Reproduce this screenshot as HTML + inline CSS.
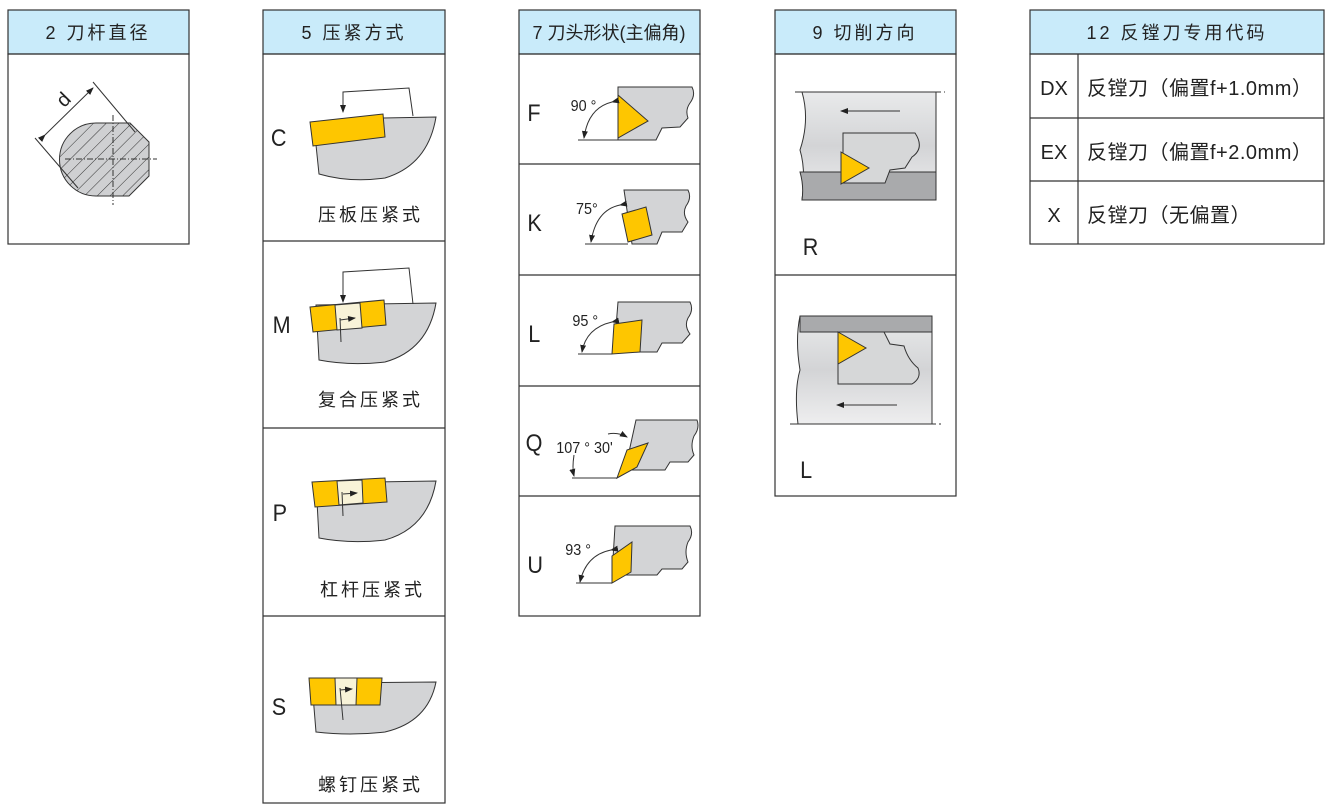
<!DOCTYPE html>
<html><head><meta charset="utf-8"><style>
html,body{margin:0;padding:0;background:#fff;}
svg{display:block;}
text{font-family:"Liberation Sans","Noto Sans CJK SC",sans-serif;fill:#222;}
</style></head><body>
<svg width="1333" height="811" viewBox="0 0 1333 811" xmlns="http://www.w3.org/2000/svg">
<defs>
<pattern id="hatch" width="9" height="9" patternUnits="userSpaceOnUse" patternTransform="rotate(45)">
<rect width="9" height="9" fill="#cfd0d2"/><line x1="0" y1="0" x2="0" y2="9" stroke="#333" stroke-width="1"/>
</pattern>
<linearGradient id="bore" x1="0" y1="0" x2="0" y2="1"><stop offset="0" stop-color="#e9eaeb"/><stop offset="0.5" stop-color="#d3d4d6"/><stop offset="1" stop-color="#eeeeef"/></linearGradient>
<marker id="ar" markerWidth="8" markerHeight="6" refX="7" refY="3" orient="auto"><path d="M0,0 L8,3 L0,6 Z" fill="#222"/></marker>
</defs>
<g stroke="#333" stroke-width="1.2" fill="none">
<rect x="8" y="10" width="181" height="44" fill="#c9ebfa"/><rect x="8" y="54" width="181" height="190"/>
<rect x="263" y="10" width="182" height="44" fill="#c9ebfa"/><rect x="263" y="54" width="182" height="749"/>
<line x1="263" y1="241" x2="445" y2="241"/><line x1="263" y1="428" x2="445" y2="428"/><line x1="263" y1="616" x2="445" y2="616"/>
<rect x="519" y="10" width="181" height="44" fill="#c9ebfa"/><rect x="519" y="54" width="181" height="562"/>
<line x1="519" y1="164" x2="700" y2="164"/><line x1="519" y1="275" x2="700" y2="275"/><line x1="519" y1="386" x2="700" y2="386"/><line x1="519" y1="496" x2="700" y2="496"/>
<rect x="775" y="10" width="181" height="44" fill="#c9ebfa"/><rect x="775" y="54" width="181" height="442"/>
<line x1="775" y1="275" x2="956" y2="275"/>
<rect x="1030" y="10" width="294" height="44" fill="#c9ebfa"/><rect x="1030" y="54" width="294" height="190"/>
<line x1="1030" y1="118" x2="1324" y2="118"/><line x1="1030" y1="181" x2="1324" y2="181"/><line x1="1078" y1="54" x2="1078" y2="244"/>
</g>
<g font-size="18" text-anchor="middle" letter-spacing="3">
<text x="98" y="39">2 刀杆直径</text>
<text x="354" y="39">5 压紧方式</text>
<text x="609" y="39" letter-spacing="0">7 刀头形状(主偏角)</text>
<text x="865" y="39">9 切削方向</text>
<text x="1177" y="39">12 反镗刀专用代码</text>
</g>
<g stroke="#333" stroke-width="1">
<path d="M96,123 L130,123 L149,142 L149,176 L137,188 L129,196 L96,196 A36,36 0 0 1 96,123 Z" fill="url(#hatch)"/>
<line x1="113" y1="115" x2="113" y2="205" stroke-dasharray="6,2,1,2"/>
<line x1="65" y1="159" x2="157" y2="159" stroke-dasharray="6,2,1,2"/>
<line x1="35" y1="138" x2="78" y2="188"/><line x1="93" y1="82" x2="135" y2="132"/>
<line x1="45" y1="135" x2="93" y2="88" marker-end="url(#ar)" marker-start="url(#ar)"/>
</g>
<text x="60" y="110" font-size="20" transform="rotate(-45 60 104)">d</text>
<g font-size="24" transform="scale(0.9,1)"><text x="301" y="146">C</text><text x="303" y="333">M</text><text x="303" y="521">P</text><text x="302" y="715">S</text></g>
<g font-size="18" letter-spacing="3"><text x="318" y="221">压板压紧式</text><text x="318" y="406">复合压紧式</text><text x="320" y="596">杠杆压紧式</text><text x="318" y="791">螺钉压紧式</text></g>
<g stroke="#333" stroke-width="1">
<path d="M383,118 L436,117 Q428,165 385,178 Q350,183 319,174 L316,145 Z" fill="#d3d4d6"/>
<path d="M310,122 L383,114 L385,137 L313,146 Z" fill="#fec600"/>
<path d="M413,116 L409,88 L343,92 L343,112" fill="none" marker-end="url(#ar)"/>
<path d="M316,305 L436,303 Q428,350 385,362 Q350,366 319,360 Z" fill="#d3d4d6"/>
<path d="M310,307 L384,300 L386,325 L313,332 Z" fill="#fec600"/>
<path d="M335,305 L360,303 L362,328 L337,330 Z" fill="#f8f3d8"/>
<path d="M413,304 L409,268 L343,272 L343,302" fill="none" marker-end="url(#ar)"/>
<line x1="340" y1="320" x2="355" y2="318" marker-end="url(#ar)"/><line x1="340" y1="318" x2="341" y2="342"/>
<path d="M316,483 L436,481 Q428,528 385,540 Q350,544 319,538 Z" fill="#d3d4d6"/>
<path d="M312,482 L385,478 L387,502 L315,507 Z" fill="#fec600"/>
<path d="M337,481 L362,480 L363,503 L339,505 Z" fill="#f8f3d8"/>
<line x1="343" y1="494" x2="357" y2="493" marker-end="url(#ar)"/><line x1="342" y1="492" x2="343" y2="516"/>
<path d="M312,683 L436,682 Q428,722 385,732 Q350,736 316,732 Z" fill="#d3d4d6"/>
<path d="M309,678 L382,678 L380,705 L311,705 Z" fill="#fec600"/>
<path d="M335,678 L357,678 L356,705 L336,705 Z" fill="#f8f3d8"/>
<line x1="340" y1="690" x2="352" y2="689" marker-end="url(#ar)"/><line x1="340" y1="688" x2="343" y2="720"/>
</g>
<g font-size="24" transform="scale(0.9,1)"><text x="586" y="121">F</text><text x="586" y="231">K</text><text x="587" y="342">L</text><text x="584" y="451">Q</text><text x="586" y="573">U</text></g>
<g font-size="16" transform="scale(0.9,1)"><text x="634" y="111">90 °</text><text x="640" y="214">75°</text><text x="636" y="326">95 °</text><text x="618" y="453">107 ° 30'</text><text x="628" y="555">93 °</text></g>
<g stroke="#333" stroke-width="1">
<path d="M618,87 L692,87 Q696,95 690,103 Q685,110 688,118 L680,127 L662,128 L656,140 L618,140 Z" fill="#d3d4d6"/>
<path d="M618,95 L648,121 L618,138 Z" fill="#fec600"/>
<line x1="578" y1="140" x2="618" y2="140"/><path d="M612,102 Q588,108 584,138" fill="none" marker-start="url(#ar)" marker-end="url(#ar)"/>
<path d="M624,190 L688,190 Q692,198 686,206 Q682,214 688,222 L682,232 L662,232 L657,244 L632,244 Z" fill="#d3d4d6"/>
<path d="M622,214 L646,207 L652,235 L628,242 Z" fill="#fec600"/>
<line x1="585" y1="244" x2="628" y2="244"/><path d="M620,205 Q596,210 591,242" fill="none" marker-start="url(#ar)" marker-end="url(#ar)"/>
<path d="M618,302 L690,302 Q694,310 688,318 Q684,326 690,334 L682,343 L662,343 L657,352 L614,352 Z" fill="#d3d4d6"/>
<path d="M614,324 L642,320 L640,352 L612,354 Z" fill="#fec600"/>
<line x1="578" y1="354" x2="612" y2="354"/><path d="M612,322 Q586,328 582,352" fill="none" marker-start="url(#ar)" marker-end="url(#ar)"/>
<path d="M636,420 L697,420 Q700,428 694,436 Q690,446 694,455 L688,462 L670,462 L665,470 L625,470 Z" fill="#d3d4d6"/>
<path d="M627,450 L648,443 L637,467 L617,478 Z" fill="#fec600"/>
<line x1="572" y1="478" x2="617" y2="478"/><path d="M574,455 Q572,468 574,476" fill="none" marker-end="url(#ar)"/><path d="M608,434 Q618,432 627,437" fill="none" marker-end="url(#ar)"/>
<path d="M615,526 L690,526 Q694,534 688,542 Q684,552 688,562 L682,569 L662,569 L657,575 L612,575 Z" fill="#d3d4d6"/>
<path d="M612,556 L632,542 L631,572 L612,583 Z" fill="#fec600"/>
<line x1="576" y1="583" x2="612" y2="583"/><path d="M611,550 Q586,555 580,582" fill="none" marker-start="url(#ar)" marker-end="url(#ar)"/>
</g>
<g stroke="#333" stroke-width="1">
<path d="M802,92 L936,92 L936,200 L802,200 Q806,170 800,150 Q810,120 802,92 Z" fill="url(#bore)"/>
<path d="M800,172 L936,172 L936,200 L802,200 Q804,186 800,172 Z" fill="#a9aaac"/>
<line x1="795" y1="92" x2="945" y2="92" stroke-dasharray="14,3,2,3"/>
<path d="M843,133 L915,133 Q925,148 912,157 L905,168 L890,170 L885,183 L843,183 Z" fill="#d6d7d8"/>
<path d="M841,152 L869,168 L841,184 Z" fill="#fec600"/>
<line x1="900" y1="111" x2="841" y2="111" marker-end="url(#ar)"/>
<path d="M800,316 L932,316 L932,424 L798,424 Q794,390 800,370 Q795,340 800,316 Z" fill="url(#bore)"/>
<path d="M800,316 L932,316 L932,332 L800,332 Z" fill="#a9aaac"/>
<line x1="790" y1="424" x2="942" y2="424" stroke-dasharray="14,3,2,3"/>
<path d="M838,332 L884,332 L890,344 L904,346 Q908,360 918,368 Q922,378 912,384 L838,384 Z" fill="#d6d7d8"/>
<path d="M838,332 L866,348 L838,364 Z" fill="#fec600"/>
<line x1="897" y1="405" x2="837" y2="405" marker-end="url(#ar)"/>
</g>
<g font-size="24" transform="scale(0.9,1)"><text x="892" y="255">R</text><text x="889" y="478">L</text></g>
<g font-size="20" text-anchor="middle"><text x="1054" y="95">DX</text><text x="1054" y="159">EX</text><text x="1054" y="222">X</text></g>
<g font-size="20" letter-spacing="0.5"><text x="1087" y="95">反镗刀（偏置f+1.0mm）</text><text x="1087" y="159">反镗刀（偏置f+2.0mm）</text><text x="1087" y="222">反镗刀（无偏置）</text></g>
</svg>
</body></html>
